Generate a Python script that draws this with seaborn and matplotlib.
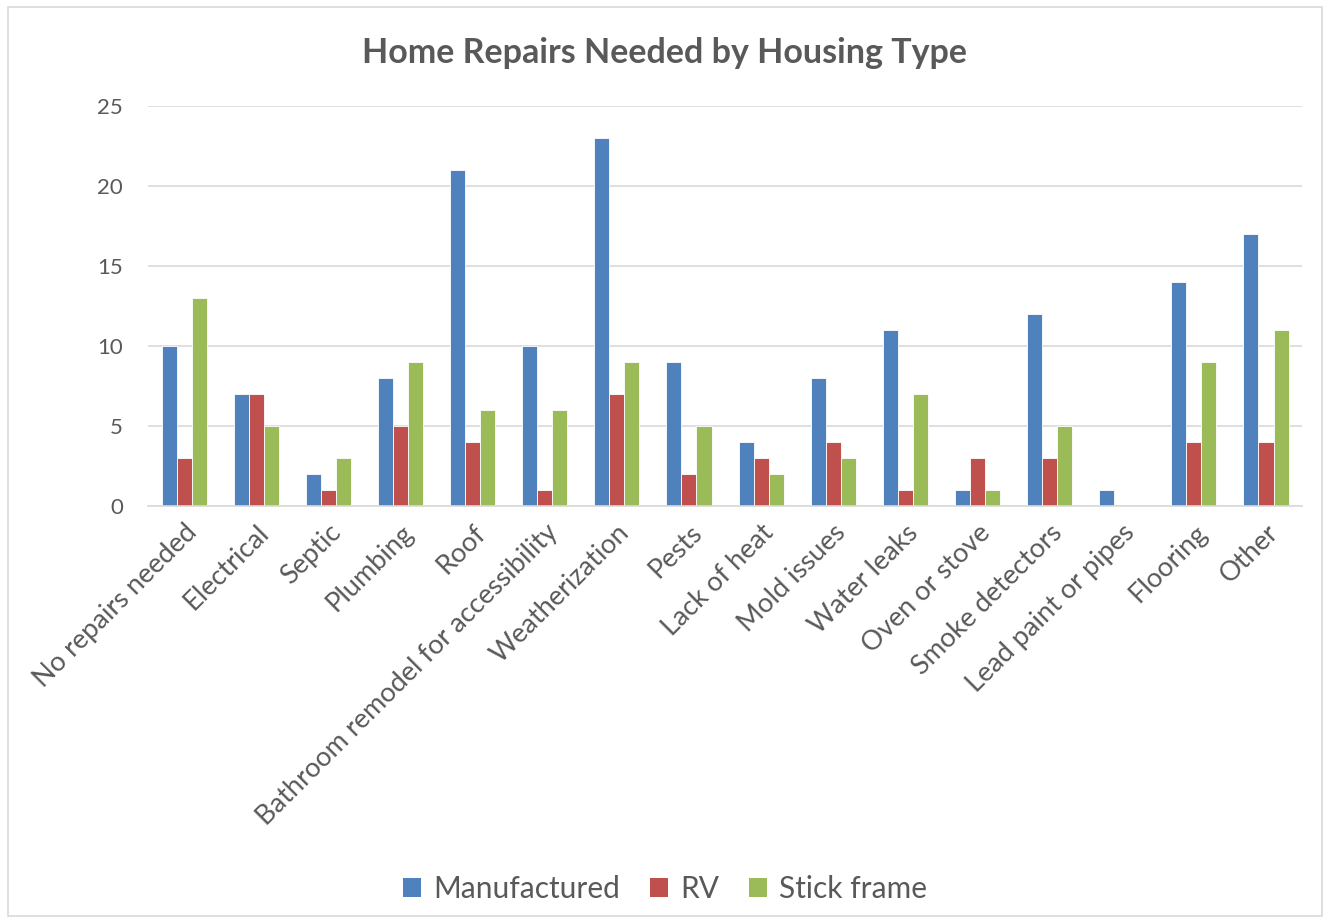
import matplotlib
matplotlib.use("Agg")
import matplotlib.pyplot as plt
import seaborn as sns
import pandas as pd
from matplotlib.patches import Rectangle, Patch

categories = [
    "No repairs needed", "Electrical", "Septic", "Plumbing", "Roof",
    "Bathroom remodel for accessibility", "Weatherization", "Pests",
    "Lack of heat", "Mold issues", "Water leaks", "Oven or stove",
    "Smoke detectors", "Lead paint or pipes", "Flooring", "Other",
]
manufactured = [10, 7, 2, 8, 21, 10, 23, 9, 4, 8, 11, 1, 12, 1, 14, 17]
rv = [3, 7, 1, 5, 4, 1, 7, 2, 3, 4, 1, 3, 3, 0, 4, 4]
stick_frame = [13, 5, 3, 9, 6, 6, 9, 5, 2, 3, 7, 1, 5, 0, 9, 11]
series_names = ["Manufactured", "RV", "Stick frame"]
colors = ["#4F81BD", "#C0504D", "#9BBB59"]

rows = []
for name, vals in zip(series_names, [manufactured, rv, stick_frame]):
    for cat, v in zip(categories, vals):
        rows.append({"Repair": cat, "Type": name, "Count": v})
df = pd.DataFrame(rows)

sns.set_theme(style="white")
plt.rcParams["font.family"] = ["Lato", "DejaVu Sans"]

fig = plt.figure(figsize=(13.3, 9.23), dpi=100)
ax = fig.add_axes([0.1113, 0.4518, 0.979 - 0.1113, 0.885 - 0.4518])

sns.barplot(data=df, x="Repair", y="Count", hue="Type", order=categories,
            hue_order=series_names, palette=colors, width=0.625, gap=0,
            edgecolor="#FFFFFF", linewidth=0.6, saturation=1, errorbar=None,
            legend=False, ax=ax)

ax.set_ylim(0, 25)
ax.set_yticks([0, 5, 10, 15, 20, 25])
ax.set_xlim(-0.5, len(categories) - 0.5)
ax.yaxis.grid(True, color="#D9D9D9", linewidth=1.2)
ax.set_axisbelow(True)
for s in ["top", "right", "left"]:
    ax.spines[s].set_visible(False)
ax.spines["bottom"].set_color("#D9D9D9")
ax.spines["bottom"].set_linewidth(1.2)
ax.tick_params(axis="both", length=0, colors="#595959")
ax.tick_params(axis="y", pad=18, labelsize=16)
ax.tick_params(axis="x", pad=10, labelsize=19.5)
ax.set_xlabel("")
ax.set_ylabel("")
plt.setp(ax.get_xticklabels(), rotation=45, ha="right", rotation_mode="anchor")

fig.text(0.5, 0.943, "Home Repairs Needed by Housing Type", ha="center",
         va="center", fontsize=24.5, fontweight="bold", color="#595959")

handles = [Patch(facecolor=c, edgecolor="none") for c in colors]
fig.legend(handles, series_names, loc="center", bbox_to_anchor=(0.5, 0.037),
           ncol=3, frameon=False, fontsize=21.5, labelcolor="#595959",
           handlelength=0.6, handleheight=0.6, handletextpad=0.4,
           columnspacing=1.0)

fig.patches.append(Rectangle((0.006, 0.008), 0.988, 0.984, transform=fig.transFigure,
                             fill=False, edgecolor="#D9D9D9", linewidth=1.2))

fig.savefig("out.png", dpi=100, facecolor="white")
